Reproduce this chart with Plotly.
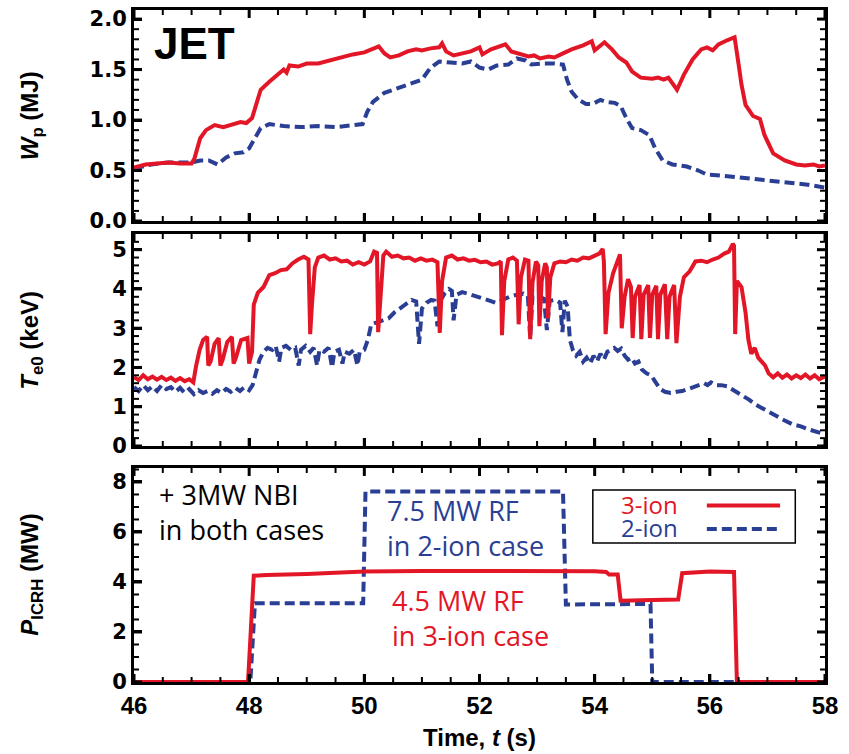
import plotly.graph_objects as go

# ---------------- data ----------------
# Stored energy W_p (MJ)
wp_t_3ion = [46.00, 46.20, 46.40, 46.60, 46.80, 47.00, 47.05, 47.15, 47.25, 47.40, 47.55, 47.70, 47.85, 47.95,
             48.05, 48.12, 48.20, 48.35, 48.50, 48.60, 48.65, 48.70, 48.85, 49.00, 49.20, 49.40, 49.60, 49.80,
             50.00, 50.15, 50.25, 50.35, 50.45, 50.60, 50.75, 50.90, 51.00, 51.15, 51.30, 51.35, 51.42, 51.55,
             51.70, 51.85, 52.00, 52.05, 52.20, 52.35, 52.45, 52.55, 52.70, 52.85, 52.95, 53.05, 53.20, 53.30,
             53.45, 53.60, 53.80, 53.95, 54.00, 54.10, 54.17, 54.30, 54.42, 54.55, 54.65, 54.80, 55.00, 55.10,
             55.20, 55.28, 55.35, 55.43, 55.55, 55.70, 55.85, 55.95, 56.05, 56.15, 56.30, 56.43, 56.50, 56.55,
             56.62, 56.75, 56.87, 56.95, 57.10, 57.30, 57.50, 57.65, 57.80, 57.90, 58.00]
wp_3ion = [0.53, 0.56, 0.57, 0.58, 0.57, 0.57, 0.62, 0.82, 0.90, 0.95, 0.93, 0.96, 0.98, 0.97,
           1.02, 1.15, 1.30, 1.38, 1.45, 1.50, 1.47, 1.54, 1.53, 1.56, 1.56, 1.59, 1.63, 1.65,
           1.67, 1.70, 1.73, 1.66, 1.62, 1.64, 1.68, 1.70, 1.69, 1.71, 1.72, 1.76, 1.68, 1.64,
           1.66, 1.68, 1.72, 1.65, 1.70, 1.73, 1.75, 1.68, 1.65, 1.63, 1.64, 1.61, 1.63, 1.62,
           1.66, 1.70, 1.74, 1.78, 1.69, 1.74, 1.77, 1.70, 1.62, 1.57, 1.48, 1.42, 1.41, 1.42,
           1.40, 1.42, 1.36, 1.30, 1.45, 1.60, 1.70, 1.72, 1.69, 1.75, 1.79, 1.82, 1.55, 1.35,
           1.15, 1.04, 1.01, 0.85, 0.67, 0.60, 0.56, 0.55, 0.56, 0.54, 0.55]

wp_t_2ion = [46.00, 46.30, 46.60, 47.00, 47.15, 47.30, 47.45, 47.60, 47.75, 47.90, 48.00, 48.10, 48.20, 48.35,
             48.60, 48.90, 49.20, 49.50, 49.80, 49.97, 50.05, 50.15, 50.35, 50.60, 50.85, 51.00, 51.15, 51.30,
             51.50, 51.70, 51.85, 52.00, 52.15, 52.30, 52.50, 52.65, 52.80, 52.90, 53.10, 53.30, 53.45, 53.52,
             53.60, 53.72, 53.85, 53.97, 54.10, 54.20, 54.35, 54.45, 54.55, 54.65, 54.80, 54.95, 55.05, 55.18,
             55.35, 55.60, 55.80, 55.95, 56.20, 56.50, 56.80, 57.10, 57.40, 57.70, 58.00]
wp_2ion = [0.52, 0.56, 0.58, 0.58, 0.60, 0.60, 0.56, 0.63, 0.67, 0.68, 0.72, 0.82, 0.92, 0.96,
           0.94, 0.93, 0.94, 0.93, 0.95, 0.96, 1.08, 1.18, 1.27, 1.32, 1.36, 1.40, 1.52, 1.58,
           1.57, 1.56, 1.58, 1.52, 1.50, 1.54, 1.55, 1.61, 1.59, 1.55, 1.56, 1.56, 1.55, 1.40,
           1.28, 1.20, 1.16, 1.16, 1.20, 1.18, 1.17, 1.14, 1.02, 0.92, 0.90, 0.85, 0.72, 0.60,
           0.56, 0.54, 0.50, 0.46, 0.45, 0.43, 0.42, 0.40, 0.38, 0.36, 0.33]

# Central electron temperature T_e0 (keV)
te_t_3ion = [46.00, 46.08, 46.16, 46.24, 46.32, 46.40, 46.48, 46.56, 46.64, 46.72, 46.80, 46.88, 46.96, 47.03,
             47.08, 47.14, 47.20, 47.27, 47.29, 47.33, 47.40, 47.47, 47.50, 47.54, 47.62, 47.70, 47.73, 47.77,
             47.86, 47.97, 48.00, 48.05, 48.08, 48.15, 48.25, 48.35, 48.45, 48.55, 48.65, 48.75, 48.85, 48.95,
             49.03, 49.06, 49.09, 49.14, 49.20, 49.30, 49.40, 49.50, 49.60, 49.70, 49.80, 49.90, 50.00, 50.10,
             50.17, 50.22, 50.24, 50.28, 50.33, 50.38, 50.48, 50.58, 50.68, 50.78, 50.88, 50.98, 51.08, 51.18,
             51.27, 51.31, 51.35, 51.42, 51.52, 51.62, 51.72, 51.82, 51.92, 52.02, 52.12, 52.22, 52.32, 52.37,
             52.39, 52.43, 52.50, 52.58, 52.65, 52.68, 52.72, 52.79, 52.85, 52.88, 52.92, 52.98, 53.02, 53.04,
             53.08, 53.14, 53.17, 53.19, 53.23, 53.30, 53.40, 53.50, 53.60, 53.70, 53.80, 53.90, 54.00, 54.08,
             54.14, 54.16, 54.19, 54.24, 54.32, 54.40, 54.44, 54.47, 54.52, 54.58, 54.63, 54.66, 54.70, 54.78,
             54.81, 54.85, 54.93, 54.96, 55.00, 55.07, 55.10, 55.14, 55.22, 55.26, 55.30, 55.38, 55.42, 55.48,
             55.55, 55.65, 55.75, 55.85, 55.95, 56.05, 56.15, 56.25, 56.33, 56.40, 56.42, 56.44, 56.47, 56.55,
             56.62, 56.67, 56.72, 56.78, 56.84, 56.90, 56.96, 57.02, 57.10, 57.18, 57.26, 57.34, 57.42, 57.50,
             57.58, 57.66, 57.74, 57.82, 57.90, 58.00]
te_3ion = [1.75, 1.68, 1.80, 1.70, 1.77, 1.69, 1.76, 1.68, 1.74, 1.66, 1.73, 1.65, 1.70, 1.62,
           2.05, 2.45, 2.70, 2.78, 2.05, 2.15, 2.60, 2.75, 2.05, 2.20, 2.65, 2.78, 2.10, 2.25,
           2.70, 2.75, 2.10, 2.40, 3.60, 3.90, 4.05, 4.35, 4.40, 4.48, 4.50, 4.65, 4.75, 4.82,
           4.75, 2.85, 3.60, 4.55, 4.80, 4.85, 4.75, 4.78, 4.70, 4.72, 4.62, 4.68, 4.62, 4.70,
           4.95, 4.92, 2.90, 3.80, 4.85, 4.95, 4.82, 4.85, 4.78, 4.80, 4.72, 4.78, 4.72, 4.75,
           4.68, 2.88, 4.20, 4.80, 4.85, 4.75, 4.78, 4.72, 4.74, 4.68, 4.70, 4.62, 4.65, 4.70,
           2.82, 4.20, 4.75, 4.80, 4.72, 3.10, 4.30, 4.75, 4.72, 2.72, 4.15, 4.70, 4.60, 3.05,
           4.20, 4.65, 4.55, 3.25, 4.30, 4.65, 4.70, 4.68, 4.75, 4.72, 4.80, 4.78, 4.85, 4.90,
           5.02, 4.70, 2.85, 3.90, 4.40, 4.72, 4.88, 3.00, 3.80, 4.25, 4.05, 2.75, 3.80, 4.10,
           2.72, 3.85, 4.10, 2.75, 3.85, 4.08, 2.72, 3.85, 4.12, 2.72, 3.80, 4.10, 2.62, 3.80,
           4.30, 4.45, 4.70, 4.72, 4.68, 4.75, 4.80, 4.90, 4.95, 5.15, 5.10, 2.85, 4.20, 4.05,
           3.40, 2.70, 2.35, 2.50, 2.25, 2.15, 2.05, 1.85, 1.75, 1.85, 1.74, 1.82, 1.72, 1.80,
           1.73, 1.82, 1.72, 1.80, 1.70, 1.78]

te_t_2ion = [46.00, 46.08, 46.16, 46.24, 46.32, 46.40, 46.48, 46.56, 46.64, 46.72, 46.80, 46.88, 46.96, 47.04,
             47.12, 47.20, 47.28, 47.36, 47.44, 47.52, 47.60, 47.68, 47.76, 47.84, 47.92, 48.00, 48.06, 48.12,
             48.18, 48.25, 48.32, 48.40, 48.46, 48.52, 48.56, 48.64, 48.72, 48.80, 48.86, 48.90, 48.98, 49.06,
             49.12, 49.18, 49.22, 49.30, 49.38, 49.44, 49.48, 49.56, 49.62, 49.66, 49.74, 49.82, 49.88, 49.92,
             50.00, 50.06, 50.12, 50.22, 50.32, 50.42, 50.52, 50.62, 50.72, 50.82, 50.90, 50.95, 51.00, 51.08,
             51.16, 51.22, 51.27, 51.32, 51.40, 51.47, 51.52, 51.55, 51.60, 51.70, 51.80, 51.92, 52.04, 52.16,
             52.28, 52.40, 52.52, 52.64, 52.76, 52.84, 52.88, 52.92, 53.02, 53.12, 53.17, 53.22, 53.32, 53.40,
             53.44, 53.48, 53.53, 53.57, 53.62, 53.68, 53.74, 53.80, 53.86, 53.92, 53.98, 54.04, 54.10, 54.16,
             54.22, 54.28, 54.34, 54.40, 54.46, 54.52, 54.58, 54.64, 54.70, 54.76, 54.82, 54.90, 54.98, 55.06,
             55.14, 55.22, 55.32, 55.42, 55.52, 55.62, 55.72, 55.82, 55.90, 55.96, 56.02, 56.10, 56.20, 56.30,
             56.42, 56.55, 56.68, 56.80, 56.92, 57.04, 57.16, 57.30, 57.44, 57.58, 57.72, 57.86, 58.00]
te_2ion = [1.50, 1.40, 1.55, 1.42, 1.52, 1.40, 1.55, 1.45, 1.50, 1.38, 1.48, 1.35, 1.45, 1.32,
           1.42, 1.35, 1.40, 1.33, 1.42, 1.35, 1.45, 1.38, 1.48, 1.40, 1.50, 1.42, 1.55, 1.90,
           2.20, 2.40, 2.50, 2.45, 2.55, 2.15, 2.50, 2.55, 2.45, 2.50, 2.05, 2.45, 2.55, 2.40,
           2.50, 2.05, 2.45, 2.40, 2.50, 2.00, 2.40, 2.45, 2.10, 2.40, 2.35, 2.45, 2.05, 2.40,
           2.45, 2.70, 3.10, 3.15, 3.20, 3.25, 3.40, 3.50, 3.62, 3.72, 3.68, 2.60, 3.50, 3.65,
           3.72, 3.70, 3.05, 3.70, 3.90, 4.00, 3.95, 3.20, 3.85, 3.92, 3.88, 3.82, 3.78, 3.72,
           3.65, 3.72, 3.80, 3.85, 3.88, 3.82, 2.75, 3.80, 3.82, 3.75, 2.95, 3.70, 3.72, 3.65,
           2.90, 3.70, 3.55, 2.70, 2.45, 2.30, 2.40, 2.15, 2.25, 2.10, 2.30, 2.15, 2.35, 2.20,
           2.40, 2.45, 2.50, 2.42, 2.48, 2.30, 2.20, 2.25, 2.10, 2.15, 1.95, 1.85, 1.80, 1.62,
           1.45, 1.38, 1.35, 1.38, 1.40, 1.45, 1.50, 1.55, 1.60, 1.55, 1.62, 1.55, 1.55, 1.52,
           1.42, 1.30, 1.18, 1.05, 0.95, 0.85, 0.75, 0.65, 0.55, 0.50, 0.42, 0.36, 0.30]

# ICRH power P_ICRH (MW)
p_t_3ion = [46.00, 47.98, 48.08, 48.30, 49.00, 49.50, 50.00, 51.00, 52.00, 53.00, 53.50, 54.00, 54.20,
            54.25, 54.40, 54.45, 55.00, 55.45, 55.52, 56.00, 56.42, 56.47, 58.00]
p_3ion = [0.00, 0.00, 4.25, 4.28, 4.32, 4.38, 4.42, 4.44, 4.43, 4.42, 4.45, 4.43, 4.40,
          4.30, 4.30, 3.25, 3.28, 3.30, 4.35, 4.42, 4.40, 0.00, 0.00]

p_t_2ion = [46.00, 48.02, 48.10, 49.98, 50.02, 53.45, 53.50, 54.97, 55.00, 58.00]
p_2ion = [0.00, 0.00, 3.15, 3.15, 7.62, 7.62, 3.10, 3.12, 0.00, 0.00]

RED = "rgb(226,22,38)"
BLUE = "rgb(42,62,148)"
TICK_FONT = dict(family="DejaVu Sans", size=21, color="black")
XTICK_FONT = dict(family="Liberation Sans, Arial", size=24, color="black")
X_RANGE = [46, 58]
WP_RANGE = [0, 2.09]
TE_RANGE = [0, 5.4]
P_RANGE = [0, 8.56]

# panel geometry (px), used to give the tick marks a fixed pixel length
PLOT_W = 849 - 134 - 24
PLOT_H = 754 - 10 - 72
DOMAINS = {"y": [0.686, 1.0], "y2": [0.3512, 0.6667], "y3": [0.0, 0.3185]}
RANGES = {"y": WP_RANGE, "y2": TE_RANGE, "y3": P_RANGE}

fig = go.Figure()

def add_pair(t3, v3, t2, v2, xa, ya):
    fig.add_trace(go.Scatter(x=t2, y=v2, mode="lines", xaxis=xa, yaxis=ya, showlegend=False,
                             line=dict(color=BLUE, width=4, dash="10px,5px")))
    fig.add_trace(go.Scatter(x=t3, y=v3, mode="lines", xaxis=xa, yaxis=ya, showlegend=False,
                             line=dict(color=RED, width=4)))

add_pair(wp_t_3ion, wp_3ion, wp_t_2ion, wp_2ion, "x", "y")
add_pair(te_t_3ion, te_3ion, te_t_2ion, te_2ion, "x2", "y2")
add_pair(p_t_3ion, p_3ion, p_t_2ion, p_2ion, "x3", "y3")

# ---- tick marks on all four sides of each panel, drawn as short black segments ----
def tick_marks(xa, ya, x_step, x_count, x_major_every, y_step, y_count, y_major_every):
    dom = DOMAINS[ya]
    y_lo, y_hi = RANGES[ya]
    h_px = (dom[1] - dom[0]) * PLOT_H
    px_per_y = h_px / (y_hi - y_lo)
    px_per_x = PLOT_W / (X_RANGE[1] - X_RANGE[0])
    segs = {True: ([], []), False: ([], [])}
    for i in range(x_count):
        xv = X_RANGE[0] + x_step * i
        major = i % x_major_every == 0
        d = (8 if major else 5) / px_per_y
        xs, ys = segs[major]
        xs += [xv, xv, None, xv, xv, None]
        ys += [y_lo, y_lo + d, None, y_hi, y_hi - d, None]
    for i in range(y_count):
        yv = y_lo + y_step * i
        major = i % y_major_every == 0
        d = (8 if major else 5) / px_per_x
        xs, ys = segs[major]
        xs += [X_RANGE[0], X_RANGE[0] + d, None, X_RANGE[1], X_RANGE[1] - d, None]
        ys += [yv, yv, None, yv, yv, None]
    for major, (xs, ys) in segs.items():
        fig.add_trace(go.Scatter(x=xs, y=ys, mode="lines", xaxis=xa, yaxis=ya, showlegend=False,
                                 hoverinfo="skip", connectgaps=False,
                                 line=dict(color="black", width=3 if major else 2)))

tick_marks("x", "y", 0.5, 25, 4, 0.1, 21, 5)
tick_marks("x2", "y2", 0.5, 25, 4, 0.2, 27, 5)
tick_marks("x3", "y3", 0.5, 25, 4, 0.5, 18, 4)

def xaxis_cfg(anchor, labels):
    return dict(anchor=anchor, range=X_RANGE, tick0=46, dtick=2, showticklabels=labels,
                tickprefix="<b>", ticksuffix="</b>", tickfont=XTICK_FONT, automargin=False,
                ticks="inside", ticklen=8, tickwidth=3, tickcolor="black",
                showline=True, linewidth=3, linecolor="black", mirror=True,
                showgrid=False, zeroline=False)

def yaxis_cfg(anchor, ya, dtick, fmt):
    return dict(anchor=anchor, domain=DOMAINS[ya], range=RANGES[ya], tick0=0, dtick=dtick, tickformat=fmt,
                tickprefix="<b>", ticksuffix="</b>", tickfont=TICK_FONT, automargin=False,
                ticks="inside", ticklen=8, tickwidth=3, tickcolor="black",
                showline=True, linewidth=3, linecolor="black", mirror=True,
                showgrid=False, zeroline=False)

fig.update_layout(
    width=849, height=754, autosize=False,
    margin=dict(l=134, r=24, t=10, b=72),
    paper_bgcolor="white", plot_bgcolor="white",
    xaxis=xaxis_cfg("y", False),
    xaxis2=xaxis_cfg("y2", False),
    xaxis3=xaxis_cfg("y3", True),
    yaxis=yaxis_cfg("x", "y", 0.5, ".1f"),
    yaxis2=yaxis_cfg("x2", "y2", 1, "d"),
    yaxis3=yaxis_cfg("x3", "y3", 2, "d"),
)
fig.update_layout(xaxis3=dict(
    title=dict(text="<b>Time, <i>t</i> (s)</b>", standoff=12,
               font=dict(family="Liberation Sans, Arial", size=24, color="black"))))

ann = []
TITLE_FONT = dict(family="Liberation Sans, Arial", size=24, color="black")
for ya, txt in [("y", "<b><i>W</i><sub>p</sub> (MJ)</b>"),
                ("y2", "<b><i>T</i><sub>e0</sub> (keV)</b>"),
                ("y3", "<b><i>P</i><sub>ICRH</sub> (MW)</b>")]:
    ann.append(dict(text=txt, textangle=-90, xref="paper", yref=ya + " domain", x=-0.148, y=0.5,
                    xanchor="center", yanchor="middle", showarrow=False, font=TITLE_FONT))

ann.append(dict(text="<b>JET</b>", xref="x domain", yref="y domain", x=0.026, y=0.84,
                xanchor="left", yanchor="middle", showarrow=False,
                font=dict(family="Liberation Sans, Arial", size=44, color="black")))

TXT = "Open Sans, Noto Sans"
ann.append(dict(text="+ 3MW NBI<br>in both cases", xref="x3 domain", yref="y3 domain",
                x=0.033, y=0.792, xanchor="left", yanchor="middle", align="left", showarrow=False,
                font=dict(family=TXT, size=27, color="black")))
ann.append(dict(text="7.5 MW RF<br>in 2-ion case", xref="x3 domain", yref="y3 domain",
                x=0.363, y=0.72, xanchor="left", yanchor="middle", align="left", showarrow=False,
                font=dict(family=TXT, size=27, color=BLUE)))
ann.append(dict(text="4.5 MW RF<br>in 3-ion case", xref="x3 domain", yref="y3 domain",
                x=0.37, y=0.30, xanchor="left", yanchor="middle", align="left", showarrow=False,
                font=dict(family=TXT, size=27, color=RED)))

# legend box: labels on the left, line samples on the right
for txt, yd, col in [("3-ion", 0.828, RED), ("2-ion", 0.722, BLUE)]:
    ann.append(dict(text=txt, xref="x3 domain", yref="y3 domain", x=0.79, y=yd, xanchor="right",
                    yanchor="middle", showarrow=False, font=dict(family=TXT, size=24, color=col)))

shapes = [
    dict(type="rect", xref="x3 domain", yref="y3 domain", x0=0.664, x1=0.957, y0=0.650, y1=0.897,
         line=dict(color="black", width=1.5), fillcolor="white", layer="below"),
    dict(type="line", xref="x3 domain", yref="y3 domain", x0=0.829, x1=0.935, y0=0.825, y1=0.825,
         line=dict(color=RED, width=4)),
    dict(type="line", xref="x3 domain", yref="y3 domain", x0=0.829, x1=0.935, y0=0.715, y1=0.715,
         line=dict(color=BLUE, width=4, dash="10px,5px")),
]

fig.update_layout(annotations=ann, shapes=shapes)
fig.write_html("out.html")
